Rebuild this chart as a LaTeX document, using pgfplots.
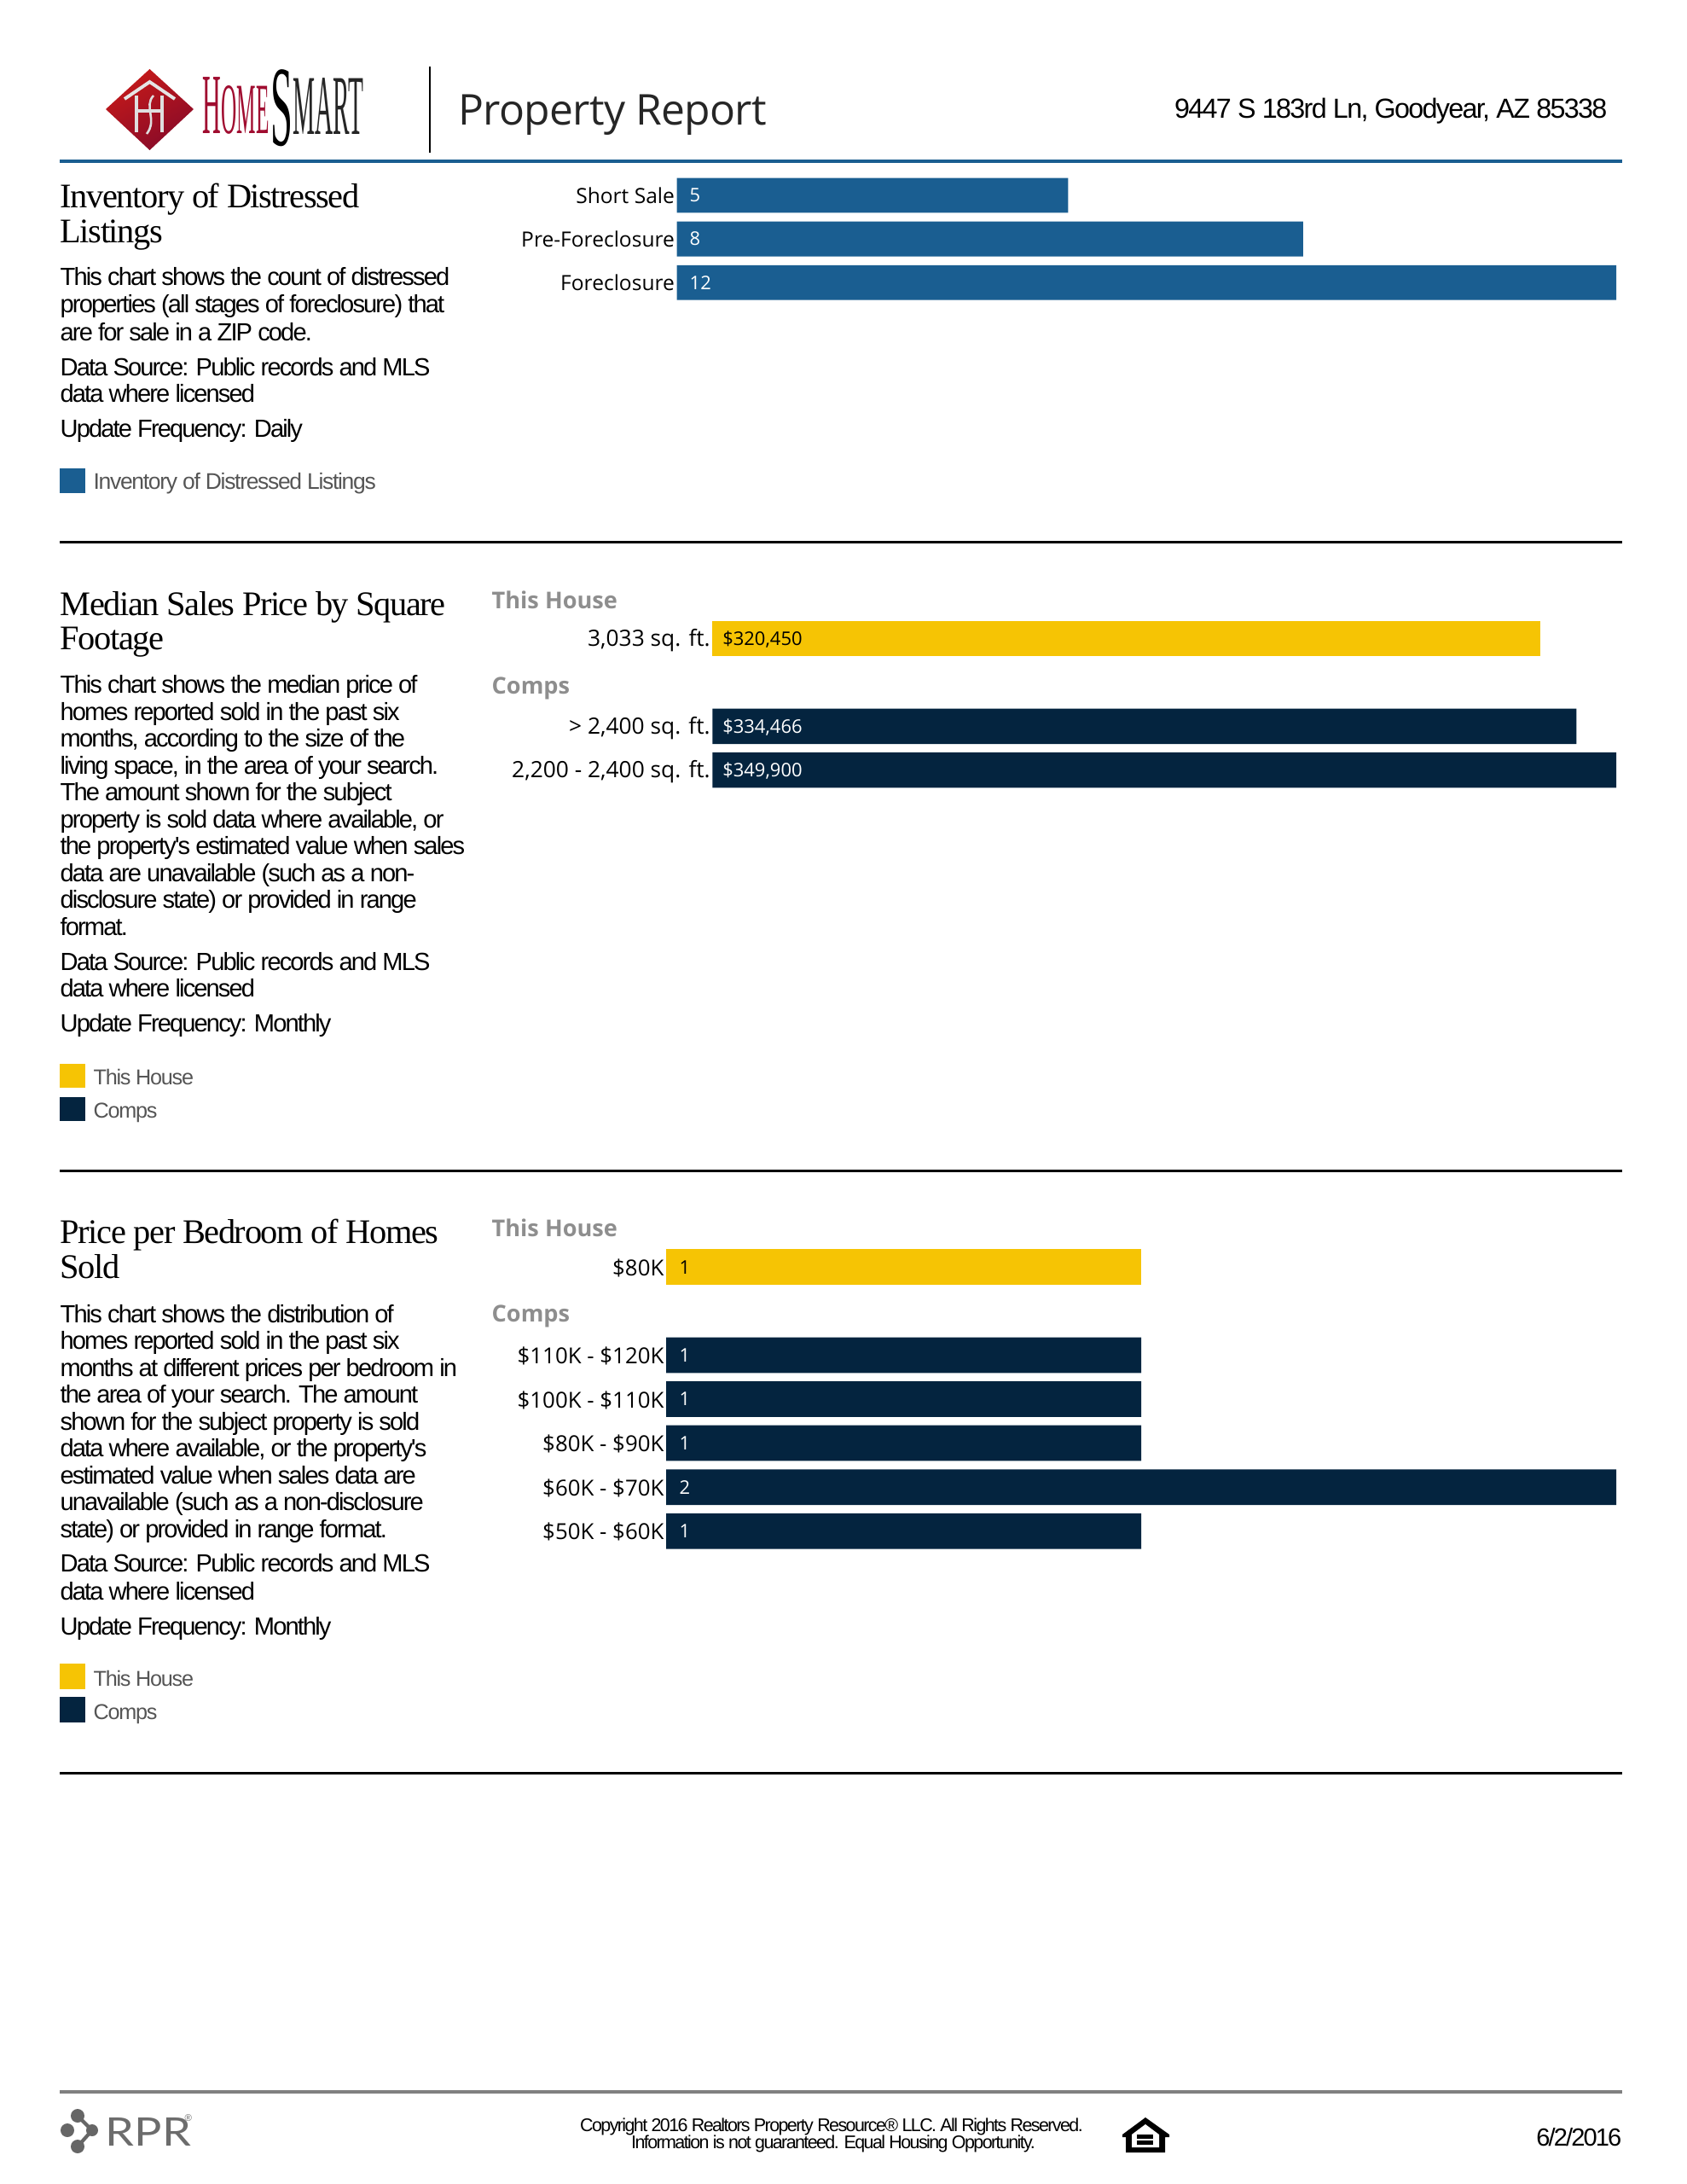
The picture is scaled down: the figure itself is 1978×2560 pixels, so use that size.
\documentclass[border=0pt]{standalone}
\usepackage{fontspec}
\usepackage{graphicx}
\usepackage{pgfplots}
\pgfplotsset{compat=1.18}
\setmainfont{Liberation Sans}
\newfontfamily\bodyf[LetterSpace=-6.5]{Liberation Sans}
\newfontfamily\legf[LetterSpace=-5]{Liberation Sans}
\newfontfamily\addrf[LetterSpace=-5.3]{Liberation Sans}
\newfontfamily\footf[LetterSpace=-7.5]{Liberation Sans}
\newfontfamily\titlef[LetterSpace=-3.5]{Liberation Serif}
\newfontfamily\barf{Open Sans}
\newfontfamily\headf{Open Sans}
\newfontfamily\repf[LetterSpace=-1.5]{Open Sans}
\newfontfamily\serifplain{Liberation Serif}
\newfontfamily\latof{Lato}
\definecolor{barblue}{HTML}{1A5E91}
\definecolor{baryellow}{HTML}{F6C404}
\definecolor{barnavy}{HTML}{04243F}
\definecolor{rulegray}{HTML}{808080}
\definecolor{headgray}{HTML}{8E8E8E}
\definecolor{legendgray}{HTML}{555555}
\definecolor{logored}{HTML}{A00D30}
\newcommand{\bodyfont}{\bodyf\fontsize{9}{11}\selectfont}
\newcommand{\titlefont}{\titlef\fontsize{12.5}{14}\selectfont}
\newcommand{\valfont}{\barf\fontsize{6.8}{8}\selectfont}
\newcommand{\bl}[2]{\node[anchor=base west,inner sep=0pt,font=\bodyfont] at (70,#1+3) {#2};}
\newcommand{\tl}[2]{\node[anchor=base west,inner sep=0pt,font=\titlefont] at (70,#1+3) {#2};}
\newcommand{\hd}[2]{\node[anchor=base west,inner sep=0pt,text=headgray,font=\headf\bfseries\fontsize{8.4}{10}\selectfont] at (576,#1+2) {#2};}
\newcommand{\lgd}[5]{\fill[#1] (70,#2) rectangle (100,#3); \node[anchor=base west,inner sep=0pt,text=legendgray,font=\legf\fontsize{7.8}{10}\selectfont] at (109,#4) {#5};}
\pgfplotsset{
  rptbar/.style={
    scale only axis, xbar, xmin=0, y dir=reverse, clip=false,
    axis line style={draw=none}, tick style={draw=none},
    major tick length=0pt, xtick=\empty,
    yticklabel style={inner sep=0.8pt, outer sep=0pt},
    bar shift=0pt,
  },
}
\begin{document}
\begin{tikzpicture}
\begin{scope}[x=0.30941pt,y=-0.30941pt]
\path (0,0) rectangle (1978,2560);
% logo
\shade[left color=red!75!black!90, right color=logored!85!black, shading angle=30] (124,128)--(175.5,81)--(227,128)--(175.5,176)--cycle;
\draw[white!80!gray,line width=1.2pt] (146,116)--(175.5,96)--(205,116);
\draw[white!75!gray,line width=1pt] (160,112)--(160,155) (190,112)--(190,155) (160,130)--(190,130);
\draw[white!75!gray,line width=0.8pt] (180,112) .. controls (168,125) and (185,140) .. (172,157);
\node[anchor=south west,inner sep=0pt,text=logored] at (237,158) {\resizebox{24.1pt}{20.4pt}{\serifplain\fontsize{10}{12}\selectfont H\fontsize{8.4}{12}\selectfont OME}};
\node[anchor=south west,inner sep=0pt,text=black] at (317,172) {\resizebox{8pt}{27.5pt}{\serifplain S}};
\node[anchor=south west,inner sep=0pt,text=black!85] at (343,158) {\resizebox{25.6pt}{20.4pt}{\serifplain MART}};
\draw[black,line width=0.9pt] (504,78)--(504,179);
\node[anchor=base west,inner sep=0pt,font=\repf\fontsize{15.4}{18}\selectfont,text=black!85] at (537,147) {Property Report};
\node[anchor=base east,inner sep=0pt,font=\addrf\fontsize{10}{12}\selectfont] at (1885,139) {9447 S 183rd Ln, Goodyear, AZ 85338};
\fill[barblue] (70,187) rectangle (1902,191);
% section 1 text
\tl{241}{Inventory of Distressed}
\tl{281.5}{Listings}
\bl{331.5}{This chart shows the count of distressed}
\bl{363}{properties (all stages of foreclosure) that}
\bl{396.5}{are for sale in a ZIP code.}
\bl{437}{Data Source: Public records and MLS}
\bl{468}{data where licensed}
\bl{509}{Update Frequency: Daily}
\lgd{barblue}{549}{578}{573}{\fontsize{8.2}{10}\selectfont Inventory of Distressed Listings}
\fill[black] (70,634) rectangle (1902,637);
% section 2 text
\tl{718}{Median Sales Price by Square}
\tl{758.5}{Footage}
\bl{809.5}{This chart shows the median price of}
\bl{841}{homes reported sold in the past six}
\bl{872.5}{months, according to the size of the}
\bl{904}{living space, in the area of your search.}
\bl{935.5}{The amount shown for the subject}
\bl{967}{property is sold data where available, or}
\bl{998.5}{the property's estimated value when sales}
\bl{1030}{data are unavailable (such as a non-}
\bl{1061.5}{disclosure state) or provided in range}
\bl{1093}{format.}
\bl{1134}{Data Source: Public records and MLS}
\bl{1165}{data where licensed}
\bl{1206}{Update Frequency: Monthly}
\lgd{baryellow}{1247}{1275}{1271}{This House}
\lgd{barnavy}{1286}{1314}{1310}{Comps}
\hd{711.5}{This House}
\hd{811}{Comps}
\fill[black] (70,1371) rectangle (1902,1374);
% section 3 text
\tl{1454.5}{Price per Bedroom of Homes}
\tl{1495.5}{Sold}
\bl{1547}{This chart shows the distribution of}
\bl{1578.5}{homes reported sold in the past six}
\bl{1610}{months at different prices per bedroom in}
\bl{1641.5}{the area of your search. The amount}
\bl{1673}{shown for the subject property is sold}
\bl{1704.5}{data where available, or the property's}
\bl{1736}{estimated value when sales data are}
\bl{1767.5}{unavailable (such as a non-disclosure}
\bl{1799}{state) or provided in range format.}
\bl{1839}{Data Source: Public records and MLS}
\bl{1872}{data where licensed}
\bl{1913}{Update Frequency: Monthly}
\lgd{baryellow}{1950}{1980}{1976}{This House}
\lgd{barnavy}{1989}{2019}{2015}{Comps}
\hd{1447.5}{This House}
\hd{1547}{Comps}
\fill[black] (70,2077) rectangle (1902,2080);
% footer
\fill[rulegray] (70,2450) rectangle (1902,2454);
\begin{scope}[gray!80!black]
\draw[line width=1.3pt] (91,2480)--(108,2497)--(91,2516);
\fill (79,2497) circle (8);
\fill (91,2480) circle (8);
\fill (91,2516) circle (8);
\fill (108,2497) circle (7);
\end{scope}
\node[anchor=south west,inner sep=0pt,text=gray!85!black] at (123,2516) {\resizebox{31pt}{10.2pt}{\latof RPR}};
\node[anchor=base west,inner sep=0pt,text=gray!85!black,font=\fontsize{3.5}{4}\selectfont] at (216,2486) {\textregistered};
\node[anchor=base,inner sep=0pt,font=\footf\fontsize{6.65}{9}\selectfont] at (975,2498) {Copyright 2016 Realtors Property Resource\textregistered{} LLC. All Rights Reserved.};
\node[anchor=base,inner sep=0pt,font=\footf\fontsize{6.65}{9}\selectfont] at (977,2518) {Information is not guaranteed. Equal Housing Opportunity.};
\fill[black] (1343,2482)--(1371,2502)--(1371,2505)--(1366,2505)--(1366,2523)--(1320,2523)--(1320,2505)--(1316,2505)--(1316,2502)--cycle;
\fill[white] (1343,2490)--(1359,2502)--(1359,2517)--(1327,2517)--(1327,2502)--cycle;
\fill[black] (1333,2502) rectangle (1352,2507);
\fill[black] (1333,2509) rectangle (1352,2514);
\node[anchor=base east,inner sep=0pt,font=\bodyf\fontsize{9}{11}\selectfont] at (1902,2515) {6/2/2016};
\coordinate (s1) at (793.5,203.4);
\coordinate (s2) at (835.3,723);
\coordinate (s3) at (781,1459.5);
\end{scope}

\begin{axis}[rptbar, at={(s1)}, anchor=north west,
  width=340.8pt, height=47.48pt, xmax=12,
  yticklabel style={font=\barf\fontsize{7.6}{9}\selectfont},
  ymin=-0.5, ymax=2.5, ytick={0,1,2},
  yticklabels={Short Sale,Pre-Foreclosure,Foreclosure}, bar width=12.62pt]
\addplot[draw=none, fill=barblue] coordinates {(5,0) (8,1) (12,2)};
\node[anchor=west,inner sep=0pt,xshift=4.5pt,text=white,font=\valfont] at (axis cs:0,0) {5};
\node[anchor=west,inner sep=0pt,xshift=4.5pt,text=white,font=\valfont] at (axis cs:0,1) {8};
\node[anchor=west,inner sep=0pt,xshift=4.5pt,text=white,font=\valfont] at (axis cs:0,2) {12};
\end{axis}

\begin{axis}[rptbar, at={(s2)}, anchor=north west,
  width=327.9pt, height=63.53pt, xmax=349900,
  yticklabel style={font=\barf\fontsize{8.15}{9}\selectfont, yshift=-0.6pt},
  ymin=-0.5, ymax=3.5, ytick={0,2,3},
  yticklabels={{3,033 sq. ft.},{> 2,400 sq. ft.},{2,200 - 2,400 sq. ft.}}, bar width=12.8pt]
\addplot[draw=none, fill=baryellow] coordinates {(320450,0)};
\addplot[draw=none, fill=barnavy] coordinates {(334466,2) (349900,3)};
\node[anchor=west,inner sep=0pt,xshift=3.5pt,yshift=-0.3pt,text=black,font=\valfont] at (axis cs:0,0) {\$320,450};
\node[anchor=west,inner sep=0pt,xshift=3.5pt,yshift=-0.3pt,text=white,font=\valfont] at (axis cs:0,2) {\$334,466};
\node[anchor=west,inner sep=0pt,xshift=3.5pt,yshift=-0.3pt,text=white,font=\valfont] at (axis cs:0,3) {\$349,900};
\end{axis}

\begin{axis}[rptbar, at={(s3)}, anchor=north west,
  width=344.7pt, height=111.7pt, xmax=2,
  yticklabel style={font=\barf\fontsize{8}{9}\selectfont, yshift=-0.3pt},
  ymin=-0.5, ymax=6.5, ytick={0,2,3,4,5,6},
  yticklabels={\$80K,\$110K - \$120K,\$100K - \$110K,\$80K - \$90K,\$60K - \$70K,\$50K - \$60K}, bar width=12.9pt]
\addplot[draw=none, fill=baryellow] coordinates {(1,0)};
\addplot[draw=none, fill=barnavy] coordinates {(1,2) (1,3) (1,4) (2,5) (1,6)};
\node[anchor=west,inner sep=0pt,xshift=4.6pt,text=black,font=\valfont] at (axis cs:0,0) {1};
\node[anchor=west,inner sep=0pt,xshift=4.6pt,text=white,font=\valfont] at (axis cs:0,2) {1};
\node[anchor=west,inner sep=0pt,xshift=4.6pt,text=white,font=\valfont] at (axis cs:0,3) {1};
\node[anchor=west,inner sep=0pt,xshift=4.6pt,text=white,font=\valfont] at (axis cs:0,4) {1};
\node[anchor=west,inner sep=0pt,xshift=4.6pt,text=white,font=\valfont] at (axis cs:0,5) {2};
\node[anchor=west,inner sep=0pt,xshift=4.6pt,text=white,font=\valfont] at (axis cs:0,6) {1};
\end{axis}
\end{tikzpicture}
\end{document}
